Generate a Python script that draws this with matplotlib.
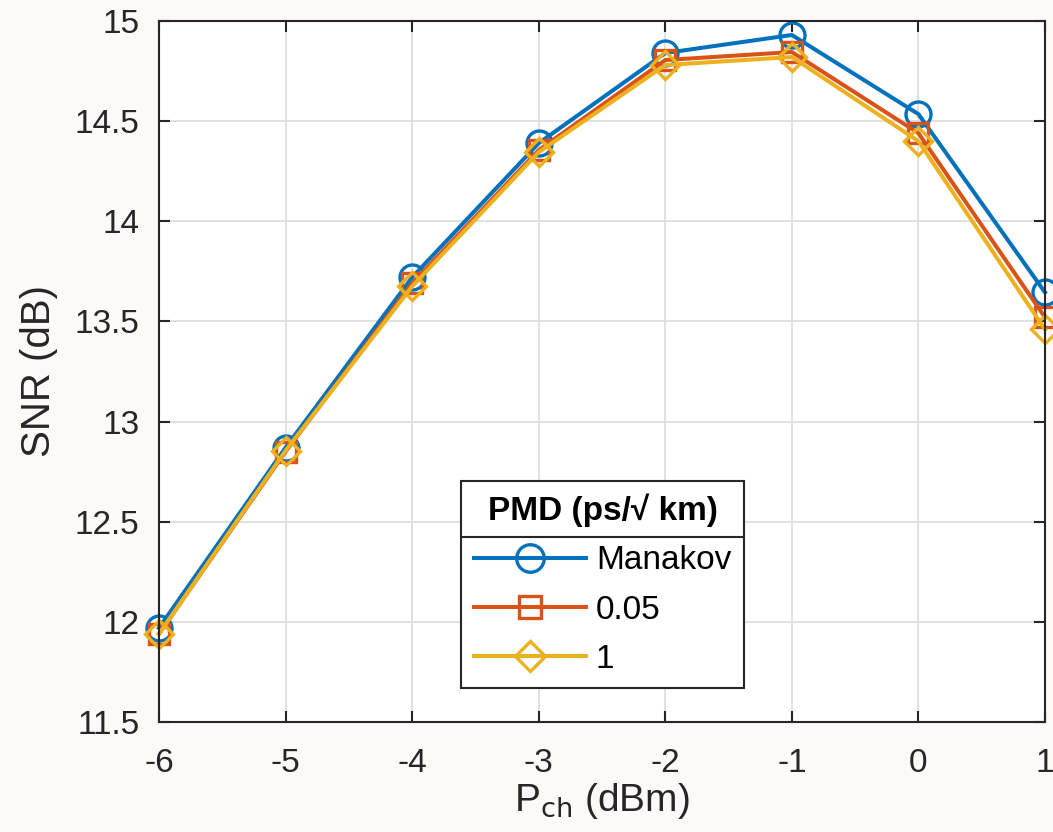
import matplotlib
matplotlib.use("Agg")
import matplotlib.pyplot as plt
from matplotlib.lines import Line2D

plt.rcParams['font.family'] = ['Liberation Sans', 'DejaVu Sans']
plt.rcParams['axes.unicode_minus'] = False

p_ch = [-6, -5, -4, -3, -2, -1, 0, 1]
snr_manakov = [11.97, 12.87, 13.72, 14.39, 14.84, 14.93, 14.535, 13.645]
snr_005 = [11.94, 12.85, 13.69, 14.355, 14.805, 14.845, 14.44, 13.52]
snr_1 = [11.94, 12.855, 13.675, 14.345, 14.78, 14.82, 14.40, 13.46]

labels = ['Manakov', '0.05', '1']
colors = ['#0072BD', '#D95319', '#EDB120']
markers = ['o', 's', 'D']
msizes = [18, 15, 14]

fig = plt.figure(figsize=(10.53, 8.32), dpi=100, facecolor='#fdf9f8')
ax = fig.add_axes([0.151, 0.1322, 0.8414, 0.8426])

for ys, lab, c, m, ms in zip([snr_manakov, snr_005, snr_1], labels, colors, markers, msizes):
    ax.plot(p_ch, ys, color=c, marker=m, markersize=ms, markerfacecolor='none',
            markeredgewidth=2.4, linewidth=2.9, label=lab, clip_on=False)

ax.set_xlim(-6, 1)
ax.set_ylim(11.5, 15)
ax.set_xticks(p_ch)
ax.set_yticks([11.5, 12, 12.5, 13, 13.5, 14, 14.5, 15])
ax.set_yticklabels(['11.5', '12', '12.5', '13', '13.5', '14', '14.5', '15'])
ax.grid(True, color='#dcdcdc', linewidth=1.2)
ax.set_axisbelow(True)
ax.tick_params(direction='in', length=8, width=1.5, labelsize=24, colors='#262626',
               top=True, right=True)
ax.tick_params(axis='x', pad=19)
ax.tick_params(axis='y', pad=14)
for s in ax.spines.values():
    s.set_color('#262626')
    s.set_linewidth(1.5)

ax.set_xlabel(r'P$_{\rm ch}$ (dBm)', fontsize=28, color='#262626', labelpad=1)
ax.set_ylabel('SNR (dB)', fontsize=29, color='#262626', labelpad=12)

leg = ax.legend(loc='upper left', bbox_to_anchor=(0.341, 0.344), fontsize=24,
                title='PMD (ps/\u221a km)', title_fontproperties={'weight': 'bold', 'size': 24},
                handlelength=3.36, fancybox=False, edgecolor='#262626', framealpha=1,
                borderpad=0.38, labelspacing=0.55, handletextpad=0.3, borderaxespad=0,
                markerscale=1.1)
leg.get_frame().set_linewidth(1.5)
leg.set_zorder(5)

fig.canvas.draw()
r = fig.canvas.get_renderer()
fb = leg.get_frame().get_window_extent(r)
tb = leg.get_title().get_window_extent(r)
ysep = tb.y0 - 10
inv = fig.transFigure.inverted()
(x0, y0) = inv.transform((fb.x0, ysep))
(x1, _) = inv.transform((fb.x1, ysep))
fig.add_artist(Line2D([x0, x1], [y0, y0], color='#262626', linewidth=1.5, zorder=6))

fig.savefig('out.png', dpi=100, facecolor=fig.get_facecolor())
